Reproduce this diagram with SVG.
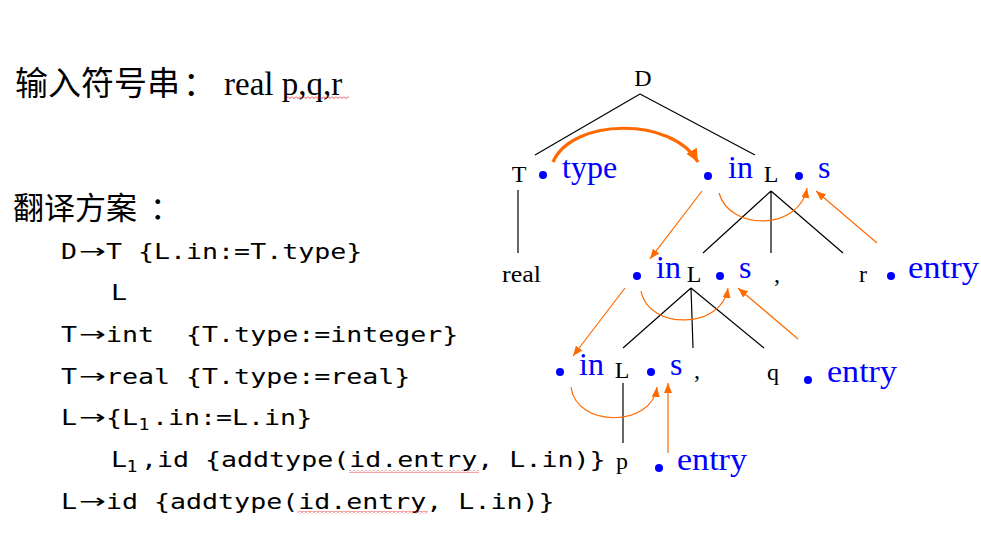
<svg xmlns="http://www.w3.org/2000/svg" width="981" height="540" viewBox="0 0 981 540">
<style>
.cjk{font-family:"Liberation Serif","Noto Sans CJK SC",serif;fill:#000}
.code{font-family:"DejaVu Sans Mono","Liberation Mono",monospace;font-size:22px;fill:#000;white-space:pre}
.sub{font-family:"DejaVu Sans Mono","Liberation Mono",monospace;font-size:15px;fill:#000}
.arr{font-family:"DejaVu Sans",sans-serif;font-size:20px;fill:#000}
.lab{font-family:"Liberation Serif",serif;font-size:24px;fill:#000}
.attr{font-family:"Liberation Serif",serif;font-size:32px;fill:#0000ff}
.dot{fill:#0000ff}
.tree{stroke:#000;stroke-width:1.2;fill:none}
.flow{stroke:#ff6a00;stroke-width:1.2;fill:none;marker-end:url(#ah)}
.flowb{stroke:#ff6a00;stroke-width:3.2;fill:none;marker-end:url(#ahb)}
.sq{fill:url(#squig)}
</style>
<defs>
<marker id="ah" markerUnits="userSpaceOnUse" markerWidth="12" markerHeight="10" refX="10" refY="4" orient="auto">
<path d="M0,0 L10,4 L0,8 Z" fill="#ff6a00"/>
</marker>
<marker id="ahb" markerUnits="userSpaceOnUse" markerWidth="16" markerHeight="14" refX="13" refY="6" orient="auto">
<path d="M0,0 L13,6 L0,12 Z" fill="#ff6a00"/>
</marker>
<pattern id="squig" patternUnits="userSpaceOnUse" width="4" height="3">
<path d="M0,0.5 L2,2.5 L4,0.5" stroke="#e00000" stroke-width="0.7" fill="none"/>
</pattern>
</defs>
<rect width="981" height="540" fill="#fff"/>

<g id="left-text">
<text class="cjk" x="15" y="95" font-size="33">输入符号串</text>
<text class="cjk" x="183" y="95" font-size="33">：</text>
<text class="cjk" x="224" y="95" font-size="33">real p,q,r</text>
<rect class="sq" x="286" y="96" width="63" height="3"/>
<text class="cjk" x="13" y="219" font-size="31">翻译方案</text>
<text class="cjk" x="150" y="219" font-size="31">：</text>

<g transform="scale(1.21,1)">
<text class="code" x="50.41" y="259">D</text>
<text class="code" x="87.6" y="259">T {L.in:=T.type}</text>
<text class="code" x="91.74" y="300">L</text>
<text class="code" x="50.41" y="342">T</text>
<text class="code" x="87.6" y="342" xml:space="preserve">int  {T.type:=integer}</text>
<text class="code" x="50.41" y="384">T</text>
<text class="code" x="87.6" y="384">real {T.type:=real}</text>
<text class="code" x="50.41" y="425">L</text>
<text class="code" x="87.6" y="425">{L</text>
<text class="sub" x="114.5" y="430">1</text>
<text class="code" x="125.6" y="425">.in:=L.in}</text>
<text class="code" x="91.74" y="467">L</text>
<text class="sub" x="104.6" y="472">1</text>
<text class="code" x="116.5" y="467">,id {addtype(id.entry, L.in)}</text>
<text class="code" x="50.41" y="509">L</text>
<text class="code" x="87.6" y="509">id {addtype(id.entry, L.in)}</text>
</g>
<text class="arr" x="79" y="258" textLength="27" lengthAdjust="spacingAndGlyphs">→</text>
<text class="arr" x="79" y="341" textLength="27" lengthAdjust="spacingAndGlyphs">→</text>
<text class="arr" x="79" y="383" textLength="27" lengthAdjust="spacingAndGlyphs">→</text>
<text class="arr" x="79" y="424" textLength="27" lengthAdjust="spacingAndGlyphs">→</text>
<text class="arr" x="79" y="508" textLength="27" lengthAdjust="spacingAndGlyphs">→</text>
<rect class="sq" x="349" y="470" width="130" height="3"/>
<rect class="sq" x="298" y="511" width="130" height="3"/>
</g>

<g id="tree-edges">
<path class="tree" d="M640,94 L535,155 M640,94 L755,155"/>
<path class="tree" d="M518,190 L518,253"/>
<path class="tree" d="M771,191 L703,253 M771,191 L771,253 M771,191 L843,253"/>
<path class="tree" d="M691,288 L623,348 M691,288 L693,348 M691,288 L764,348"/>
<path class="tree" d="M623,383 L623,443"/>
</g>

<g id="node-D"><text class="lab" x="643" y="86" text-anchor="middle">D</text></g>
<g id="node-T">
<text class="lab" x="519" y="182" text-anchor="middle">T</text>
<circle class="dot" cx="543" cy="175" r="4"/>
<text class="attr" x="562" y="178">type</text>
</g>
<g id="node-real"><text class="lab" x="502" y="282" font-size="22" textLength="39" lengthAdjust="spacingAndGlyphs">real</text></g>
<g id="node-L1">
<circle class="dot" cx="708" cy="176" r="4"/>
<text class="attr" x="728" y="178">in</text>
<text class="lab" x="771" y="182" text-anchor="middle">L</text>
<circle class="dot" cx="799" cy="176" r="4"/>
<text class="attr" x="818" y="178">s</text>
</g>
<g id="node-L2">
<circle class="dot" cx="637" cy="276" r="4"/>
<text class="attr" x="656" y="278">in</text>
<text class="lab" x="694" y="282" text-anchor="middle">L</text>
<circle class="dot" cx="720" cy="276" r="4"/>
<text class="attr" x="739" y="278">s</text>
</g>
<g id="node-comma1"><text class="lab" x="774" y="282">,</text></g>
<g id="node-r">
<text class="lab" x="859" y="282">r</text>
<circle class="dot" cx="891" cy="276" r="4"/>
<text class="attr" x="908" y="278" textLength="71" lengthAdjust="spacingAndGlyphs">entry</text>
</g>
<g id="node-L3">
<circle class="dot" cx="560" cy="372" r="4"/>
<text class="attr" x="579" y="375">in</text>
<text class="lab" x="622" y="378" text-anchor="middle">L</text>
<circle class="dot" cx="651" cy="372" r="4"/>
<text class="attr" x="670" y="375">s</text>
</g>
<g id="node-comma2"><text class="lab" x="694" y="378">,</text></g>
<g id="node-q">
<text class="lab" x="767" y="380">q</text>
<circle class="dot" cx="808" cy="380" r="4"/>
<text class="attr" x="827" y="382" textLength="70" lengthAdjust="spacingAndGlyphs">entry</text>
</g>
<g id="node-p">
<text class="lab" x="616" y="469">p</text>
<circle class="dot" cx="659" cy="468" r="4"/>
<text class="attr" x="677" y="470" textLength="70" lengthAdjust="spacingAndGlyphs">entry</text>
</g>

<g id="connectors">
<path class="flowb" d="M553,162 C572,118 672,116 698,162"/>
<path class="flow" d="M719,193 C730,232 800,230 807,188"/>
<path class="flow" d="M641,291 C648,330 722,330 728,288"/>
<path class="flow" d="M571,387 C576,428 652,428 657,387"/>
<path class="flow" d="M877,243 L816,191"/>
<path class="flow" d="M702,191 L650,259"/>
<path class="flow" d="M798,339 L738,288"/>
<path class="flow" d="M625,288 L573,356"/>
<path class="flow" d="M668,453 L668,383"/>
</g>
</svg>
